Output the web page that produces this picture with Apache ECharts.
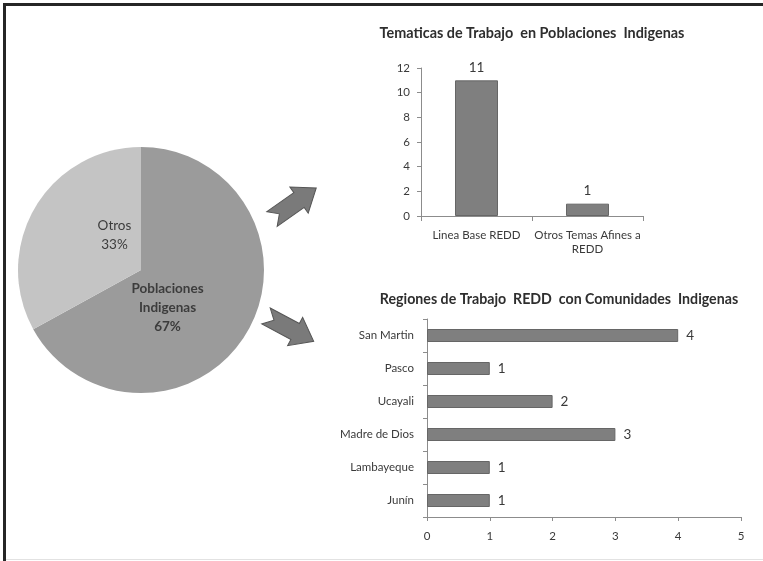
<!DOCTYPE html>
<html>
<head>
<meta charset="utf-8">
<script src="https://cdn.jsdelivr.net/npm/echarts@6/dist/echarts.min.js"></script>
<style>
  html, body { margin: 0; padding: 0; background: #ffffff; }
  #chart { width: 763px; height: 561px; }
</style>
</head>
<body>
<div id="chart"></div>
<script>
// Share of work: indigenous populations vs. others
const pieNames = ['Poblaciones\nIndigenas', 'Otros'];
const pieValues = [67, 33];

// Work topics in indigenous populations
const topicCategories = ['Linea Base REDD', 'Otros Temas Afines a\nREDD'];
const topicValues = [11, 1];
const topicTicks = { min: 0, max: 12, interval: 2 };

// REDD work regions with indigenous communities (bottom to top)
const regionCategories = ['Junín', 'Lambayeque', 'Madre de Dios', 'Ucayali', 'Pasco', 'San Martin'];
const regionValues = [1, 1, 3, 2, 1, 4];
const regionTicks = { min: 0, max: 5, interval: 1 };

const FONT = 'Lato, "Open Sans", sans-serif';
const AXIS_COLOR = '#8c8c8c';
const TEXT_COLOR = '#3a3a3a';
const BAR_COLOR = '#7f7f7f';

// Block arrow outline pointing along +x, origin at the tail notch line
const arrowShape = [[0, -9], [33, -9], [33, -16], [54, 0], [33, 16], [33, 9], [0, 9], [9, 0]];

const chart = echarts.init(document.getElementById('chart'), null, { renderer: 'canvas' });

chart.setOption({
  backgroundColor: '#ffffff',
  animation: false,
  textStyle: { fontFamily: FONT },
  title: [
    {
      text: 'Tematicas de Trabajo  en Poblaciones  Indigenas',
      left: 527, top: 21, textAlign: 'center',
      textStyle: { fontFamily: FONT, fontSize: 14.4, fontWeight: 'bold', color: '#2e2e2e' }
    },
    {
      text: 'Regiones de Trabajo  REDD  con Comunidades  Indigenas',
      left: 554, top: 287, textAlign: 'center',
      textStyle: { fontFamily: FONT, fontSize: 14.2, fontWeight: 'bold', color: '#2e2e2e' }
    }
  ],
  grid: [
    { left: 421, top: 68, width: 222, height: 148 },
    { left: 427, top: 319, width: 314, height: 198 }
  ],
  xAxis: [
    {
      gridIndex: 0, type: 'category', data: topicCategories,
      axisLine: { show: true, lineStyle: { color: AXIS_COLOR } },
      axisTick: { show: true, length: 5, lineStyle: { color: AXIS_COLOR } },
      axisLabel: { interval: 0, margin: 12, fontSize: 11.5, lineHeight: 14, color: TEXT_COLOR, fontFamily: FONT }
    },
    {
      gridIndex: 1, type: 'value', min: regionTicks.min, max: regionTicks.max, interval: regionTicks.interval,
      splitLine: { show: false },
      axisLine: { show: true, lineStyle: { color: AXIS_COLOR } },
      axisTick: { show: true, length: 4, lineStyle: { color: AXIS_COLOR } },
      axisLabel: { margin: 13, fontSize: 11.5, color: TEXT_COLOR, fontFamily: FONT }
    }
  ],
  yAxis: [
    {
      gridIndex: 0, type: 'value', min: topicTicks.min, max: topicTicks.max, interval: topicTicks.interval,
      splitLine: { show: false },
      axisLine: { show: true, lineStyle: { color: AXIS_COLOR } },
      axisTick: { show: true, length: 4, lineStyle: { color: AXIS_COLOR } },
      axisLabel: { margin: 11, fontSize: 11.5, color: TEXT_COLOR, fontFamily: FONT }
    },
    {
      gridIndex: 1, type: 'category', data: regionCategories,
      axisLine: { show: true, lineStyle: { color: AXIS_COLOR } },
      axisTick: { show: true, length: 4, lineStyle: { color: AXIS_COLOR } },
      axisLabel: { interval: 0, margin: 13, fontSize: 11.5, color: TEXT_COLOR, fontFamily: FONT }
    }
  ],
  series: [
    {
      type: 'pie',
      center: [141, 270],
      radius: [0, 123],
      startAngle: 90,
      clockwise: true,
      silent: true,
      data: pieNames.map((n, i) => ({
        name: n,
        value: pieValues[i],
        label: { fontWeight: i === 0 ? 'bold' : 'normal' }
      })),
      color: ['#9b9b9b', '#c4c4c4'],
      itemStyle: { borderWidth: 0 },
      label: {
        show: true,
        position: 'inside',
        fontFamily: FONT,
        fontSize: 13.5,
        lineHeight: 19,
        color: '#3c3c3c',
        formatter: p => p.name + '\n' + p.value + '%'
      },
      labelLine: { show: false },
      labelLayout: function (params) {
        return params.dataIndex === 0 ? { dx: -29, dy: 5 } : { dx: 29, dy: -2 };
      }
    },
    {
      type: 'bar',
      xAxisIndex: 0, yAxisIndex: 0,
      data: topicValues,
      barWidth: 43,
      itemStyle: { color: BAR_COLOR, borderColor: '#666666', borderWidth: 1 },
      label: { show: true, position: 'top', distance: 6, fontSize: 13.5, color: TEXT_COLOR, fontFamily: FONT }
    },
    {
      type: 'bar',
      xAxisIndex: 1, yAxisIndex: 1,
      data: regionValues,
      barWidth: 13,
      itemStyle: { color: BAR_COLOR, borderColor: '#666666', borderWidth: 1 },
      label: { show: true, position: 'right', distance: 8, fontSize: 13.5, color: TEXT_COLOR, fontFamily: FONT }
    }
  ],
  graphic: [
    // frame lines
    { type: 'rect', shape: { x: 3, y: 3, width: 760, height: 3 }, style: { fill: '#262626' }, silent: true },
    { type: 'rect', shape: { x: 3, y: 3, width: 3, height: 558 }, style: { fill: '#262626' }, silent: true },
    { type: 'rect', shape: { x: 6, y: 559, width: 757, height: 1 }, style: { fill: '#e2e2e2' }, silent: true },
    // arrows from the pie toward the two bar charts
    {
      type: 'polygon', x: 272, y: 219, rotation: 35 * Math.PI / 180,
      shape: { points: arrowShape },
      style: { fill: '#7a7a7a', stroke: '#555555', lineWidth: 1 }, silent: true
    },
    {
      type: 'polygon', x: 266, y: 316, rotation: -28 * Math.PI / 180,
      shape: { points: arrowShape },
      style: { fill: '#7a7a7a', stroke: '#555555', lineWidth: 1 }, silent: true
    }
  ]
});
</script>
</body>
</html>
